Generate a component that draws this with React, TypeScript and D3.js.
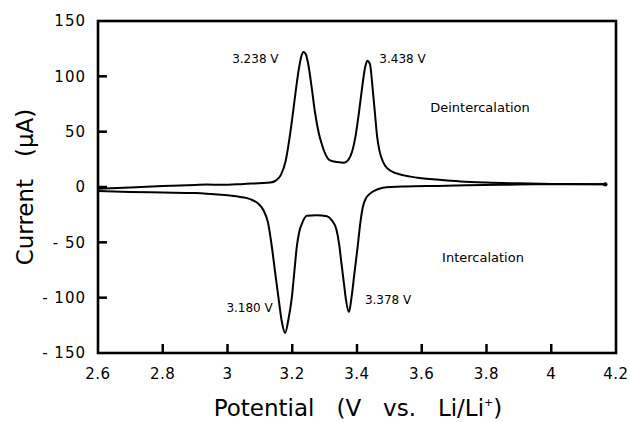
import React from 'react';
import * as d3 from 'd3';

// anodic sweep (deintercalation), potential in V, current in µA
const anodicV = [2.6, 2.7, 2.8, 2.9, 2.936, 2.98, 3.05, 3.132, 3.15, 3.165, 3.18, 3.192, 3.2, 3.21, 3.22, 3.228, 3.235, 3.242, 3.25, 3.26, 3.27, 3.281, 3.292, 3.302, 3.317, 3.34, 3.36, 3.372, 3.385, 3.395, 3.405, 3.415, 3.425, 3.432, 3.44, 3.448, 3.455, 3.462, 3.47, 3.48, 3.493, 3.52, 3.545, 3.6, 3.647, 3.72, 3.8, 3.9, 3.966, 4.05, 4.167];
const anodicI = [-1.5, -0.5, 0.8, 1.8, 2.2, 2.0, 2.8, 4.0, 6, 11, 24, 45, 62, 85, 106, 118, 122, 120, 110, 90, 68, 50, 38, 30, 24, 22.5, 22, 24, 32, 45, 65, 88, 108, 114, 111, 90, 68, 46, 32, 23, 17, 12.5, 10.5, 8, 6.7, 5, 4, 3.3, 3, 2.6, 2.4];

// cathodic sweep (intercalation)
const cathodicV = [2.6, 2.7, 2.8, 2.9, 2.936, 3.0, 3.04, 3.07, 3.095, 3.111, 3.125, 3.137, 3.147, 3.157, 3.168, 3.178, 3.188, 3.199, 3.207, 3.214, 3.222, 3.23, 3.245, 3.275, 3.307, 3.322, 3.337, 3.345, 3.352, 3.36, 3.366, 3.375, 3.383, 3.392, 3.402, 3.41, 3.418, 3.428, 3.44, 3.46, 3.48, 3.55, 3.65, 3.74, 3.85, 3.95, 4.05, 4.167];
const cathodicI = [-3.6, -4.5, -5, -5.5, -6, -7.5, -9, -11, -15, -21, -32, -54, -77, -99, -122, -132, -120, -99, -75, -54, -40, -33, -26, -25.5, -26.5, -30, -39, -52, -69, -88, -102, -113, -100, -78, -54, -33, -18, -10, -6, -2.5, -0.6, 0.5, 1, 1.5, 2, 2.4, 2.5, 2.4];

const xTicks = [2.6, 2.8, 3, 3.2, 3.4, 3.6, 3.8, 4, 4.2];
const yTicks = [-150, -100, -50, 0, 50, 100, 150];

const peakLabels = [
  { text: '3.238 V', v: 3.238, i: 122, dx: -26, dy: 11, anchor: 'end' },
  { text: '3.438 V', v: 3.438, i: 114, dx: 10, dy: 2, anchor: 'start' },
  { text: '3.180 V', v: 3.18, i: -132, dx: -13, dy: -21, anchor: 'end' },
  { text: '3.378 V', v: 3.378, i: -113, dx: 15, dy: -8, anchor: 'start' },
];

const W = 630;
const H = 422;
const margin = { top: 21, right: 14, bottom: 69, left: 98 };
const font = 'DejaVu Sans, Verdana, sans-serif';

export default function App() {
  const x = d3.scaleLinear().domain([2.6, 4.2]).range([margin.left, W - margin.right]);
  const y = d3.scaleLinear().domain([-150, 150]).range([H - margin.bottom, margin.top]);

  const line = d3.line<[number, number]>()
    .x(d => x(d[0]))
    .y(d => y(d[1]))
    .curve(d3.curveMonotoneX);

  const anodic = anodicV.map((v, k) => [v, anodicI[k]] as [number, number]);
  const cathodic = cathodicV.map((v, k) => [v, cathodicI[k]] as [number, number]);
  const last = anodic[anodic.length - 1];

  const x0 = x(2.6), x1 = x(4.2), y0 = y(-150), y1 = y(150);

  return (
    <svg width={W} height={H} style={{ position: 'absolute', left: 0, top: 0, background: '#fff' }}>
      <path d={line(anodic) || ''} fill="none" stroke="#000" strokeWidth={2} />
      <path d={line(cathodic) || ''} fill="none" stroke="#000" strokeWidth={2} />
      <circle cx={x(last[0])} cy={y(last[1])} r={2.2} fill="#000" />

      {/* frame */}
      <rect x={x0} y={y1} width={x1 - x0} height={y0 - y1} fill="none" stroke="#000" strokeWidth={2.6} />

      {/* inward ticks */}
      {xTicks.slice(1, -1).map(t => (
        <line key={'xt' + t} x1={x(t)} x2={x(t)} y1={y0} y2={y0 - 9} stroke="#000" strokeWidth={2.5} />
      ))}
      {yTicks.slice(1, -1).map(t => (
        <line key={'yt' + t} x1={x0} x2={x0 + 9} y1={y(t)} y2={y(t)} stroke="#000" strokeWidth={2.5} />
      ))}

      {xTicks.map(t => (
        <text key={'xl' + t} x={x(t)} y={y0 + 26} textAnchor="middle" fontFamily={font} fontSize={15} letterSpacing={0.5}>
          {d3.format('~g')(t)}
        </text>
      ))}
      {yTicks.map(t => (
        <text key={'yl' + t} x={x0 - 12} y={y(t)} dy="0.36em" textAnchor="end" fontFamily={font} fontSize={15} letterSpacing={1}>
          {t < 0 ? '- ' + Math.abs(t) : String(t)}
        </text>
      ))}

      {peakLabels.map(p => (
        <text key={p.text} x={x(p.v) + p.dx} y={y(p.i) + p.dy} textAnchor={p.anchor} fontFamily={font} fontSize={12}>
          {p.text}
        </text>
      ))}

      <text x={480} y={112} textAnchor="middle" fontFamily={font} fontSize={13}>Deintercalation</text>
      <text x={483} y={262} textAnchor="middle" fontFamily={font} fontSize={13}>Intercalation</text>

      <text x={358} y={416} textAnchor="middle" fontFamily={font} fontSize={23} style={{ whiteSpace: 'pre' }}>
        {'Potential   (V   vs.   Li/Li'}
        <tspan fontSize={11} dy={-10}>+</tspan>
        <tspan dy={10}>)</tspan>
      </text>

      <text transform={`translate(33,${(y0 + y1) / 2}) rotate(-90)`} textAnchor="middle" fontFamily={font} fontSize={23} style={{ whiteSpace: 'pre' }}>
        {'Current   (\u03BCA)'}
      </text>
    </svg>
  );
}
